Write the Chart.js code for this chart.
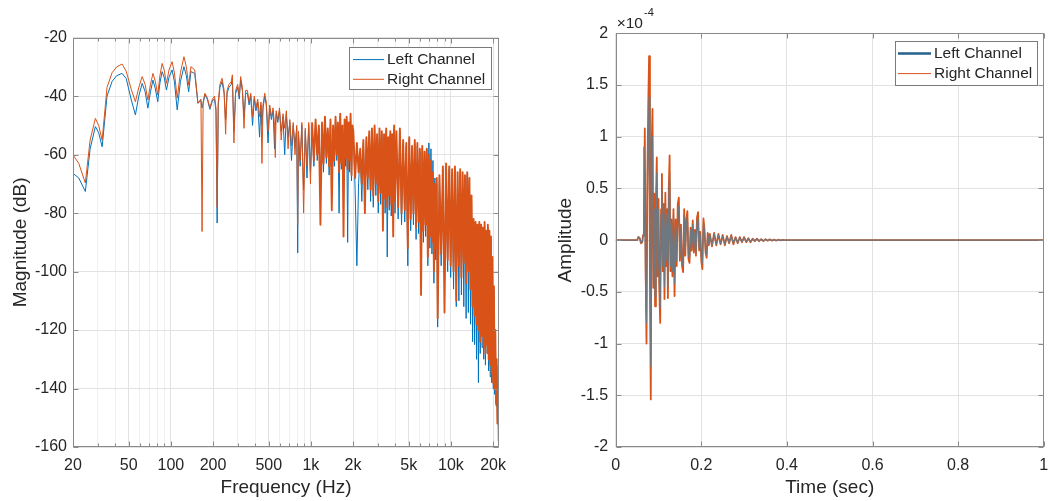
<!DOCTYPE html>
<html>
<head>
<meta charset="utf-8">
<script src="https://cdn.jsdelivr.net/npm/chart.js@4.4.1/dist/chart.umd.min.js"></script>
<style>
  html, body { margin: 0; padding: 0; background: #fff; }
  #wrap { position: relative; width: 1048px; height: 501px; overflow: hidden; }
  canvas { position: absolute; top: 0; }
  #spectrum { left: 0; }
  #impulse { left: 524px; }
</style>
</head>
<body>
<div id="wrap">
  <canvas id="spectrum" width="524" height="501"></canvas>
  <canvas id="impulse" width="524" height="501"></canvas>
</div>
<script>
// ---- magnitude spectrum ----
const freqHz = [
  // 20 - 200 Hz
  20, 22, 24.5, 26.5, 28.9, 30.5, 32.3, 35, 38, 41, 44.8, 48, 52, 55.8, 59, 62.4, 65.5, 68.5, 71.5, 74.5, 77.5,
  80.6, 83.5, 86.6, 89.5, 93, 97, 102, 106, 111, 117, 124, 129, 134, 139, 148, 156, 164, 167, 170, 175, 182, 190, 198,
  // 200 Hz - 1 kHz
  205, 210, 214, 218, 224, 232, 240, 246, 252, 260, 270, 275, 282, 290, 300, 308, 315, 324, 333, 342, 352, 362, 372,
  383, 394, 405, 417, 430, 440, 447, 455, 468, 480, 494, 508, 522, 537, 550, 557, 565, 580, 597, 614, 632, 650, 668,
  687, 707, 727, 748, 770, 792, 805, 815, 838, 862, 887, 912, 938, 965, 993,
  // 1 - 2 kHz
  1020, 1050, 1080, 1110, 1140, 1170, 1200, 1230, 1260, 1290, 1320, 1350, 1380, 1410, 1440, 1470, 1500, 1530, 1560,
  1590, 1620, 1650, 1680, 1710, 1740, 1770, 1800, 1830, 1860, 1890, 1920, 1950, 1980,
  // 2 - 4 kHz
  2010, 2070, 2130, 2190, 2250, 2310, 2370, 2430, 2490, 2550, 2610, 2670, 2730, 2790, 2850, 2910, 2970, 3030, 3090,
  3150, 3210, 3270, 3330, 3390, 3450, 3510, 3570, 3630, 3690, 3750, 3810, 3870, 3930, 3990,
  // 4 - 8 kHz
  4080, 4200, 4320, 4440, 4560, 4680, 4800, 4920, 5040, 5160, 5280, 5400, 5520, 5640, 5760, 5880, 6000, 6120, 6240,
  6360, 6480, 6600, 6720, 6840, 6960, 7080, 7200, 7320, 7440, 7560, 7680, 7800, 7920,
  // 8 - 16 kHz
  8040, 8280, 8520, 8760, 9000, 9240, 9480, 9720, 9960, 10200, 10440, 10680, 10920, 11160, 11400, 11640, 11880,
  12120, 12360, 12600, 12840, 13080, 13320, 13560, 13800, 14040, 14280, 14520, 14760, 15000, 15240, 15480, 15720, 15960,
  // 16 - 22 kHz
  16200, 16440, 16680, 16920, 17160, 17400, 17640, 17880, 18120, 18360, 18600, 18840, 19080, 19320, 19560, 19800,
  20040, 20280, 20520, 20760, 21000, 21240, 21480, 21720, 21960
];

const leftDb = [
  -66.4, -68, -72.6, -58, -50.4, -52.5, -57.3, -40, -35, -33, -32.2, -34, -41, -46.4, -40, -35.6, -38.5, -44.1, -38.5, -34.5,
  -37.5, -41.9, -35.5, -31.6, -33.5, -37.9, -33.5, -31, -35, -44.7, -35, -29.9, -33, -38.5, -31.6, -32.2, -42.4, -41.5, -44, -42.5,
  -39.5, -41, -44.5, -41.5,
  -41, -45, -83.4, -43, -37, -35, -39, -48, -39, -37, -36, -34, -52, -39, -37, -41, -34.5, -38, -47, -39,
  -39, -43, -40, -50, -41, -45, -42, -54, -43, -50, -44, -40, -43, -56, -44, -48, -45, -58, -50, -46,
  -49, -45, -52, -47, -60, -46, -54, -49, -62, -50, -57, -51, -93.6, -53, -64, -50, -72, -52, -68, -50, -66,
  -50, -64, -49, -62, -51, -70, -50, -66, -48, -63, -52, -67, -49, -72, -51, -64, -48, -62, -50, -80,
  -47, -65, -51, -76, -49, -64, -48, -90, -50, -66, -47, -69, -51,
  -53, -72, -98, -70, -59, -76, -56, -74, -55, -72, -53, -76, -52, -78, -51, -74, -54, -80, -52, -77,
  -53, -78, -54, -80, -52, -95, -55, -79, -53, -81, -54, -79, -51, -80,
  -53, -82, -52, -84, -56, -83, -57, -98, -55, -86, -58, -84, -56, -89, -57, -87, -59, -92, -58, -90,
  -60, -88, -58, -98, -56, -92, -58, -94, -62, -104, -68, -96, -70,
  -119, -68, -98, -65, -104, -64, -100, -65, -102, -66, -106, -65, -112, -67, -110, -66, -108, -67, -112, -68,
  -116, -67, -114, -69, -118, -76, -124, -83, -125, -84, -130, -85, -138, -84,
  -128, -85, -126, -86, -130, -84, -132, -87, -128, -85, -134, -87, -136, -89, -138, -96, -140, -106, -142, -122,
  -146, -132, -150, -143, -152
];

const rightDb = [
  -60.1, -63, -69.7, -55, -47.6, -50, -55, -37, -32, -30, -29, -31.5, -37.5, -41.9, -37, -33.3, -36, -41.3, -36, -32.2,
  -35, -39.6, -33, -28.8, -31, -35.6, -31, -28.2, -32, -40.7, -32, -26.5, -30, -36.2, -29.9, -31, -42.4, -41, -86.3, -42,
  -39, -40.5, -44, -41,
  -40, -44, -78, -42, -36, -33.9, -38, -53, -38, -36, -35, -32.7, -56, -38, -36, -40, -33.3, -37, -51, -38,
  -38, -42, -39, -47, -40, -44, -41, -47, -42, -63, -43, -39, -42, -52, -43, -47, -44, -50, -61, -45,
  -48, -44, -55, -46, -51, -45, -58, -48, -57, -49, -60, -50, -84, -52, -62, -49, -80, -51, -64, -49, -70,
  -49, -62, -48, -60, -50, -84, -49, -63, -47, -61, -51, -64, -48, -79, -50, -62, -47, -60, -49, -66,
  -46, -63, -50, -88, -48, -61, -47, -65, -49, -62, -46, -67, -50,
  -52, -68, -56, -66, -58, -70, -55, -80, -54, -68, -52, -72, -51, -74, -50, -70, -53, -76, -51, -73,
  -52, -86, -53, -75, -51, -78, -54, -74, -52, -77, -53, -88, -50, -76,
  -52, -78, -51, -80, -55, -79, -56, -92, -54, -82, -57, -80, -55, -85, -56, -83, -58, -108, -57, -86,
  -59, -84, -58, -95, -60, -88, -62, -90, -66, -100, -70, -92, -68,
  -116, -67, -94, -64, -114, -63, -96, -64, -98, -65, -100, -64, -110, -66, -98, -65, -102, -66, -97, -67,
  -104, -66, -100, -68, -106, -74, -112, -82, -115, -83, -118, -84, -120, -83,
  -124, -84, -122, -85, -126, -83, -128, -86, -125, -84, -130, -86, -132, -88, -135, -95, -138, -105, -140, -120,
  -145, -130, -152, -142, -158
];

const freqGrid = [20, 30, 40, 50, 60, 70, 80, 90, 100, 200, 300, 400, 500, 600, 700, 800, 900,
  1000, 2000, 3000, 4000, 5000, 6000, 7000, 8000, 9000, 10000, 20000];
const freqTickText = { 20: "20", 50: "50", 100: "100", 200: "200", 500: "500",
  1000: "1k", 2000: "2k", 5000: "5k", 10000: "10k", 20000: "20k" };

// ---- impulse response (right panel, amplitude in units of 1e-4) ----
const timeSec = [
  0, 0.02, 0.04, 0.05, 0.053, 0.056, 0.059, 0.062, 0.064,
  0.066, 0.068, 0.070, 0.072, 0.074, 0.076, 0.078, 0.080, 0.082, 0.084, 0.086, 0.088, 0.090, 0.092, 0.094, 0.096, 0.098,
  0.100, 0.102, 0.104, 0.106, 0.108, 0.110, 0.112, 0.114, 0.116, 0.118, 0.120, 0.122, 0.124, 0.126, 0.128, 0.130,
  0.1325, 0.135, 0.1375, 0.140, 0.1425, 0.145, 0.1475, 0.150, 0.1525, 0.155, 0.1575, 0.160, 0.1625, 0.165, 0.1675,
  0.170, 0.1725, 0.175,
  0.1775, 0.180, 0.1825, 0.185, 0.1875, 0.190, 0.1925, 0.195, 0.1975, 0.200, 0.2025, 0.205, 0.2075, 0.210, 0.2125,
  0.215, 0.2175, 0.220,
  0.225, 0.230, 0.235, 0.240, 0.245, 0.250, 0.255, 0.260, 0.265, 0.270, 0.275, 0.280, 0.285, 0.290, 0.295, 0.300,
  0.305, 0.310, 0.315, 0.320, 0.325, 0.330, 0.335, 0.340, 0.345, 0.350, 0.355, 0.360, 0.365, 0.370, 0.375, 0.380,
  0.385, 0.390, 0.395, 0.400,
  0.45, 0.5, 0.6, 0.7, 0.8, 0.9, 1.0
];

const leftAmp = [
  0, 0, 0, 0, 0.03, 0.02, -0.02, -0.02, 0.04,
  0.9, 0.4, -0.5, -0.8, 0.4, 0.9, 1.38, -0.3, -1.22, 0.7, 1.0, -0.4, 0.3, -0.55, 0.3, 0.65, -0.3,
  0.3, -0.45, -0.65, 0.25, 0.5, -0.25, 0.3, -0.45, 0.35, -0.2, 0.25, -0.45, 0.4, 0.65, -0.25, 0.15,
  -0.3, 0.25, -0.42, 0.15, -0.2, 0.28, 0.33, -0.16, 0.12, -0.2, -0.25, 0.24, -0.12, 0.16, 0.22, -0.14, -0.18, 0.1,
  -0.08, 0.15, -0.1, 0.08, -0.12, 0.18, 0.21, -0.08, 0.06, -0.16, -0.22, 0.17, 0.08, -0.1, -0.14, 0.06, -0.04, 0.05,
  -0.05, 0.06, -0.04, 0.05, -0.035, 0.04, -0.04, 0.035, -0.025, 0.04, -0.03, 0.025, -0.025, 0.025, -0.015, 0.025,
  -0.015, 0.015, -0.015, 0.012, -0.008, 0.012, -0.008, 0.008, -0.008, 0.008, -0.004, 0.006, -0.004, 0.004, -0.003, 0.003,
  -0.002, 0.002, 0, 0,
  0, 0, 0, 0, 0, 0, 0
];

const rightAmp = [
  0, 0, 0, 0, 0.03, 0.02, -0.03, -0.02, 0.05,
  0.2, 1.08, -0.3, -1.0, 0.6, 1.3, 1.78, -0.4, -1.54, 0.9, 1.27, -0.46, 0.45, -0.64, 0.35, 0.8, -0.35,
  0.4, -0.5, -0.8, 0.3, 0.64, -0.3, 0.35, -0.57, 0.46, -0.25, 0.3, -0.56, 0.5, 0.82, -0.3, 0.2,
  -0.35, 0.3, -0.54, 0.2, -0.25, 0.35, 0.41, -0.2, 0.15, -0.25, -0.31, 0.3, -0.15, 0.2, 0.28, -0.18, -0.22, 0.12,
  -0.1, 0.19, -0.12, 0.1, -0.15, 0.22, 0.27, -0.1, 0.08, -0.2, -0.28, 0.21, 0.1, -0.12, -0.17, 0.07, -0.05, 0.06,
  -0.06, 0.07, -0.05, 0.06, -0.04, 0.05, -0.05, 0.04, -0.03, 0.05, -0.04, 0.03, -0.03, 0.03, -0.02, 0.03,
  -0.02, 0.02, -0.02, 0.015, -0.01, 0.015, -0.01, 0.01, -0.01, 0.01, -0.005, 0.008, -0.005, 0.005, -0.004, 0.004,
  -0.002, 0.002, 0, 0,
  0, 0, 0, 0, 0, 0, 0
];

const FONT = "'Liberation Sans', Arial, Helvetica, sans-serif";
const INK = "#262626";
const BLUE = "#0072BD";
const ORANGE = "#D95319";
const GRID = "#e2e2e2";
const GRID_MINOR = "#efefef";

Chart.defaults.font.family = FONT;
Chart.defaults.color = INK;

function toPoints(xs, ys) {
  return xs.map((x, i) => ({ x: x, y: ys[i] }));
}

function plainNumber(v) {
  return String(Number(Number(v).toFixed(3)));
}

// frame, inward ticks, legend box and exponent label, MATLAB style
const axesDecor = {
  id: "axesDecor",
  afterDatasetsDraw(chart, args, opts) {
    const { ctx, chartArea: a, scales } = chart;
    const L = Math.round(a.left) + 0.5, R = Math.round(a.right) - 0.5;
    const T = Math.round(a.top) + 0.5, B = Math.round(a.bottom) - 0.5;
    ctx.save();
    ctx.lineWidth = 1;
    ctx.strokeStyle = opts.frameColor;
    ctx.beginPath();
    scales.x.ticks.forEach((t) => {
      const px = Math.round(scales.x.getPixelForValue(t.value)) + 0.5;
      const len = t.label === "" ? 3 : 5;
      ctx.moveTo(px, B); ctx.lineTo(px, B - len);
      ctx.moveTo(px, T); ctx.lineTo(px, T + len);
    });
    scales.y.ticks.forEach((t) => {
      const py = Math.round(scales.y.getPixelForValue(t.value)) + 0.5;
      ctx.moveTo(L, py); ctx.lineTo(L + 5, py);
      ctx.moveTo(R, py); ctx.lineTo(R - 5, py);
    });
    ctx.stroke();
    ctx.strokeRect(L, T, R - L, B - T);

    const lg = opts.legend;
    const bx = Math.round(a.right - lg.right - lg.width);
    const by = Math.round(a.top + lg.top);
    ctx.fillStyle = "#fff";
    ctx.fillRect(bx, by, lg.width, lg.height);
    ctx.strokeStyle = lg.border;
    ctx.lineWidth = 1;
    ctx.strokeRect(bx + 0.5, by + 0.5, lg.width, lg.height);
    ctx.font = lg.fontSize + "px " + FONT;
    ctx.textBaseline = "middle";
    chart.data.datasets
      .slice()
      .sort((p, q) => (p.legendRank || 0) - (q.legendRank || 0))
      .forEach((ds, i) => {
        const y = by + lg.rowTop + i * lg.rowGap;
        ctx.strokeStyle = ds.legendColor || ds.borderColor;
        ctx.lineWidth = ds.legendWidth || 1;
        ctx.beginPath();
        ctx.moveTo(bx + lg.lineStart, y);
        ctx.lineTo(bx + lg.lineStart + lg.lineLen, y);
        ctx.stroke();
        ctx.fillStyle = INK;
        ctx.fillText(ds.label, bx + lg.textStart, y);
      });

    if (opts.exponent) {
      ctx.fillStyle = INK;
      ctx.textBaseline = "alphabetic";
      ctx.font = "15.5px " + FONT;
      ctx.fillText("\u00d710", a.left + 1, a.top - 5);
      const w = ctx.measureText("\u00d710").width;
      ctx.font = "11px " + FONT;
      ctx.fillText(opts.exponent, a.left + 2 + w, a.top - 17);
    }
    ctx.restore();
  },
};

const tickFont = { size: 16 };
const titleFont = { size: 19 };

function fixHeight(h) {
  return (s) => { s.height = h; s.paddingLeft = 0; s.paddingRight = 0; };
}
function fixWidth(w) {
  return (s) => { s.width = w; s.paddingTop = 0; s.paddingBottom = 0; };
}

// dataset 0 is drawn on top, so the right channel comes first here
new Chart(document.getElementById("spectrum"), {
  type: "line",
  data: {
    datasets: [
      {
        label: "Right Channel",
        legendRank: 1,
        data: toPoints(freqHz, rightDb),
        borderColor: ORANGE,
        borderWidth: 1,
        segment: { borderWidth: (c) => (c.p0.parsed.x >= 1000 ? 1.9 : 1) },
      },
      {
        label: "Left Channel",
        legendRank: 0,
        data: toPoints(freqHz, leftDb),
        borderColor: BLUE,
        borderWidth: 1,
      },
    ],
  },
  plugins: [axesDecor],
  options: {
    responsive: false,
    animation: false,
    devicePixelRatio: 1,
    layout: { padding: { top: 37.7, right: 25, bottom: 0, left: 0 } },
    elements: {
      point: { radius: 0 },
      line: { tension: 0, borderJoinStyle: "round", fill: false },
    },
    plugins: {
      legend: { display: false },
      tooltip: { enabled: false },
      axesDecor: {
        frameColor: "#8a8a8a",
        legend: { right: 8, top: 9, width: 142, height: 42, rowTop: 12.6, rowGap: 19.7,
          lineStart: 4, lineLen: 31, textStart: 38, fontSize: 15.5, border: "#7a7a7a" },
      },
    },
    scales: {
      x: {
        type: "logarithmic",
        min: 20,
        max: 22050,
        afterBuildTicks: (s) => { s.ticks = freqGrid.map((v) => ({ value: v })); },
        afterFit: fixHeight(54),
        ticks: {
          autoSkip: false,
          maxRotation: 0,
          padding: 9,
          font: tickFont,
          callback: (v) => freqTickText[v] || "",
        },
        grid: {
          drawTicks: false,
          color: (c) => (c.tick && freqTickText[c.tick.value] ? GRID : GRID_MINOR),
        },
        border: { display: false },
        title: { display: true, text: "Frequency (Hz)", font: titleFont, padding: { top: 0, bottom: 2 } },
      },
      y: {
        min: -160,
        max: -20,
        afterFit: fixWidth(73),
        ticks: { stepSize: 20, padding: 6, font: tickFont },
        grid: { drawTicks: false, color: GRID },
        border: { display: false },
        title: { display: true, text: "Magnitude (dB)", font: titleFont, padding: { top: 9, bottom: 0 } },
      },
    },
  },
});

new Chart(document.getElementById("impulse"), {
  type: "line",
  data: {
    datasets: [
      {
        label: "Left Channel",
        legendRank: 0,
        data: toPoints(timeSec, leftAmp),
        borderColor: "#6f7880",
        borderWidth: 1.2,
        legendColor: "#24618c",
        legendWidth: 2.5,
      },
      {
        label: "Right Channel",
        legendRank: 1,
        data: toPoints(timeSec, rightAmp),
        borderColor: ORANGE,
        borderWidth: 1.8,
        legendWidth: 1,
      },
    ],
  },
  plugins: [axesDecor],
  options: {
    responsive: false,
    animation: false,
    devicePixelRatio: 1,
    layout: { padding: { top: 33.3, right: 4.3, bottom: 0, left: 0 } },
    elements: { point: { radius: 0 }, line: { borderJoinStyle: "round" } },
    plugins: {
      legend: { display: false },
      tooltip: { enabled: false },
      axesDecor: {
        frameColor: "#8a8a8a",
        exponent: "-4",
        legend: { right: 7, top: 7.4, width: 142, height: 44, rowTop: 12.6, rowGap: 20,
          lineStart: 3, lineLen: 33, textStart: 39, fontSize: 15.5, border: "#7a7a7a" },
      },
    },
    scales: {
      x: {
        type: "linear",
        min: 0,
        max: 1,
        afterFit: fixHeight(54),
        ticks: { stepSize: 0.2, maxRotation: 0, padding: 9, font: tickFont, callback: plainNumber },
        grid: { drawTicks: false, color: GRID },
        border: { display: false },
        title: { display: true, text: "Time (sec)", font: titleFont, padding: { top: 0, bottom: 2 } },
      },
      y: {
        min: -2,
        max: 2,
        afterFit: fixWidth(91.7),
        ticks: { stepSize: 0.5, padding: 7.5, font: tickFont, callback: plainNumber },
        grid: { drawTicks: false, color: GRID },
        border: { display: false },
        title: { display: true, text: "Amplitude", font: titleFont, padding: { top: 30.5, bottom: 0 } },
      },
    },
  },
});
</script>
</body>
</html>
